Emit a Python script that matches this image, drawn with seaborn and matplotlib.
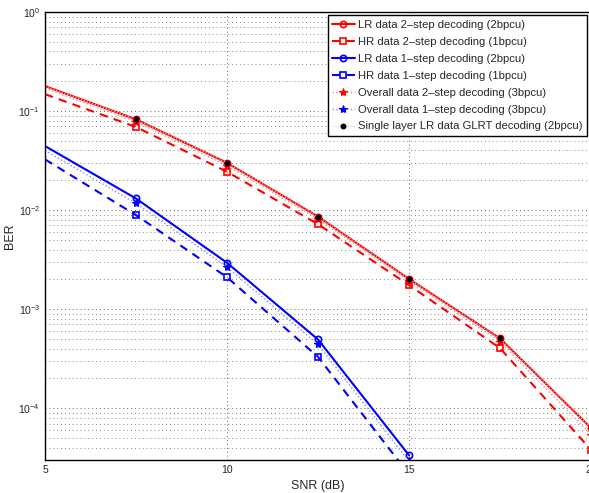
import numpy as np
import pandas as pd
import matplotlib
matplotlib.use("Agg")
import matplotlib.pyplot as plt
import seaborn as sns

snr = [5, 7.5, 10, 12.5, 15, 17.5, 20]
lr_2step = [0.179, 0.0824, 0.0300, 0.0086, 0.00202, 0.000506, 0.000063]
hr_2step = [0.148, 0.0690, 0.0244, 0.0072, 0.00175, 0.000404, 0.000038]
overall_2step = [0.169, 0.0780, 0.0281, 0.0081, 0.00193, 0.000470, 0.000054]
glrt = [0.179, 0.0824, 0.0300, 0.0086, 0.00202, 0.000506, 0.000063]

snr_b = [5, 7.5, 10, 12.5, 15]
lr_1step = [0.0443, 0.0131, 0.00294, 0.000494, 0.0000335]
hr_1step = [0.0325, 0.0089, 0.00210, 0.000330, 0.0000215]
overall_1step = [0.0400, 0.0117, 0.00266, 0.000440, 0.0000290]

labels = [
    "LR data 2–step decoding (2bpcu)",
    "HR data 2–step decoding (1bpcu)",
    "LR data 1–step decoding (2bpcu)",
    "HR data 1–step decoding (1bpcu)",
    "Overall data 2–step decoding (3bpcu)",
    "Overall data 1–step decoding (3bpcu)",
    "Single layer LR data GLRT decoding (2bpcu)",
]

sns.set_style("white")
plt.rcParams["font.family"] = ["Liberation Sans", "DejaVu Sans"]
plt.rcParams["mathtext.fontset"] = "custom"
plt.rcParams["mathtext.rm"] = "Liberation Sans"
plt.rcParams["mathtext.it"] = "Liberation Sans"

fig = plt.figure(figsize=(5.89, 4.93), dpi=100)
ax = fig.add_axes([45/589, 33/493, 546/589, 448/493])

me = slice(1, None)
common = dict(ax=ax, markevery=me, markersize=4.5)

sns.lineplot(x=snr, y=lr_2step, color="#ff0000", lw=1.5, ls="-", marker="o",
             mfc="none", mec="#ff0000", mew=1.2, label=labels[0], **common)
sns.lineplot(x=snr, y=hr_2step, color="#ff0000", lw=1.5, ls=(0, (4, 3)), marker="s",
             mfc="none", mec="#ff0000", mew=1.2, label=labels[1], **common)
sns.lineplot(x=snr_b, y=lr_1step, color="#0000ff", lw=1.5, ls="-", marker="o",
             mfc="none", mec="#0000ff", mew=1.2, label=labels[2], **common)
sns.lineplot(x=snr_b, y=hr_1step, color="#0000ff", lw=1.5, ls=(0, (4, 3)), marker="s",
             mfc="none", mec="#0000ff", mew=1.2, label=labels[3], **common)
sns.lineplot(x=snr, y=overall_2step, color="#ff8888", lw=1.0, ls=":", marker="*",
             mfc="#ff0000", mec="#ff0000", label=labels[4], ax=ax, markevery=me,
             markersize=6)
sns.lineplot(x=snr_b, y=overall_1step, color="#8888ff", lw=1.0, ls=":", marker="*",
             mfc="#0000ff", mec="#0000ff", label=labels[5], ax=ax, markevery=me,
             markersize=6)
sns.lineplot(x=snr, y=glrt, color="#cccccc", lw=0.8, ls=":", marker="o",
             mfc="k", mec="k", ax=ax, markevery=slice(1, 6), markersize=3.5,
             label=labels[6])

ax.set_yscale("log")
ax.set_xlim(5, 20)
ax.set_ylim(3e-5, 1)
ax.set_xticks([5, 10, 15, 20])
ax.set_xticklabels(["5", "10", "15", "20"])
ax.set_yticks([1e-4, 1e-3, 1e-2, 1e-1, 1])
ax.set_yticklabels([r"$10^{-4}$", r"$10^{-3}$", r"$10^{-2}$", r"$10^{-1}$", r"$10^{0}$"])
ax.tick_params(axis="both", which="both", direction="in", labelsize=7.5, length=4,
               top=False, right=False)
ax.tick_params(axis="y", which="minor", length=2)
ax.grid(True, which="major", axis="both", ls=(0, (1, 3)), color="#666666", lw=0.7)
ax.grid(True, which="minor", axis="y", ls=(0, (1, 3)), color="#888888", lw=0.7)
for s in ax.spines.values():
    s.set_color("black")
    s.set_linewidth(1.0)

ax.set_xlabel("SNR (dB)", fontsize=9, labelpad=4)
ax.set_ylabel("BER", fontsize=9, labelpad=2)

leg = ax.legend(loc="upper right", bbox_to_anchor=(0.9927, 0.993), borderaxespad=0,
                fontsize=8.1, frameon=True, fancybox=False, edgecolor="black",
                framealpha=1, handlelength=2.0, handletextpad=0.3,
                labelspacing=0.62, borderpad=0.4)
leg.get_frame().set_linewidth(1.0)

fig.savefig("out.png", dpi=100)
